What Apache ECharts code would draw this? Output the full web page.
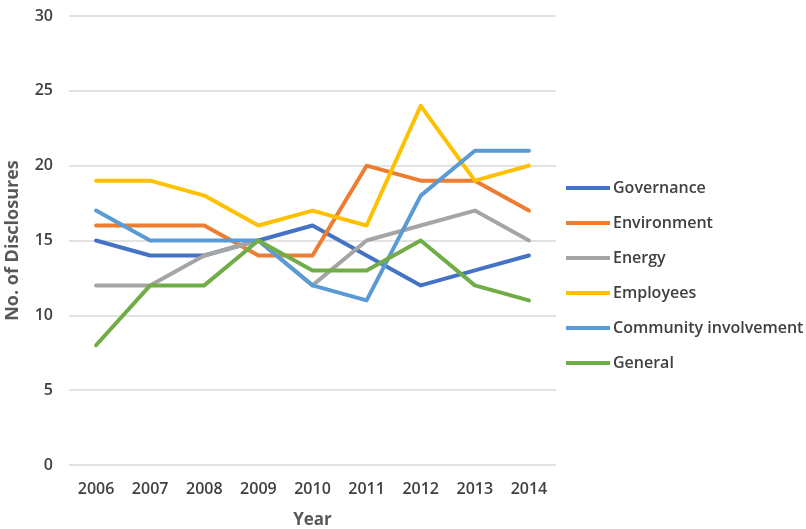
<!DOCTYPE html>
<html>
<head>
<meta charset="utf-8">
<script src="https://cdn.jsdelivr.net/npm/echarts@6/dist/echarts.min.js"></script>
<style>
  html, body { margin: 0; padding: 0; background: #fff; }
  #chart { width: 806px; height: 529px; }
</style>
</head>
<body>
<div id="chart"></div>
<script>
// Disclosure counts per year, by topic
const years = ['2006', '2007', '2008', '2009', '2010', '2011', '2012', '2013', '2014'];
const governance = [15, 14, 14, 15, 16, 14, 12, 13, 14];
const environment = [16, 16, 16, 14, 14, 20, 19, 19, 17];
const energy = [12, 12, 14, 15, 12, 15, 16, 17, 15];
const employees = [19, 19, 18, 16, 17, 16, 24, 19, 20];
const community = [17, 15, 15, 15, 12, 11, 18, 21, 21];
const general = [8, 12, 12, 15, 13, 13, 15, 12, 11];

const seriesDefs = [
  { name: 'Governance', data: governance, color: '#4472C4' },
  { name: 'Environment', data: environment, color: '#ED7D31' },
  { name: 'Energy', data: energy, color: '#A5A5A5' },
  { name: 'Employees', data: employees, color: '#FFC000' },
  { name: 'Community involvement', data: community, color: '#5B9BD5' },
  { name: 'General', data: general, color: '#70AD47' }
];

const font = '"Open Sans", "Liberation Sans", sans-serif';
const chart = echarts.init(document.getElementById('chart'));
chart.setOption({
  animation: false,
  textStyle: { fontFamily: font },
  grid: { left: 69, right: 250, top: 16, bottom: 64, containLabel: false, outerBoundsMode: 'none' },
  legend: {
    orient: 'vertical',
    left: 566,
    top: 177,
    padding: 0,
    itemWidth: 44,
    itemHeight: 4,
    itemGap: 13,
    icon: 'rect',
    textStyle: { fontSize: 16, fontWeight: 600, color: '#404040', fontFamily: font, padding: [0, 0, 0, -2], lineHeight: 22 },
    data: seriesDefs.map(s => s.name)
  },
  xAxis: {
    type: 'category',
    data: years,
    boundaryGap: true,
    name: 'Year',
    nameLocation: 'middle',
    nameGap: 47,
    nameTextStyle: { fontSize: 17, fontWeight: 'bold', color: '#595959', fontFamily: font },
    axisLine: { show: false },
    axisTick: { show: false },
    axisLabel: { fontSize: 16, fontWeight: 600, color: '#404040', margin: 16 }
  },
  yAxis: {
    type: 'value',
    min: 0,
    max: 30,
    interval: 5,
    name: 'No. of Disclosures',
    nameLocation: 'middle',
    nameGap: 47,
    nameTextStyle: { fontSize: 18, fontWeight: 'bold', color: '#595959', fontFamily: font },
    axisLine: { show: false },
    axisTick: { show: false },
    axisLabel: { fontSize: 16, fontWeight: 600, color: '#404040', margin: 16 },
    splitLine: { lineStyle: { color: '#D9D9D9', width: 1.5 } }
  },
  series: seriesDefs.map(s => ({
    name: s.name,
    type: 'line',
    data: s.data,
    symbol: 'none',
    color: s.color,
    lineStyle: { width: 4, color: s.color, cap: 'round', join: 'round' }
  }))
});
</script>
</body>
</html>
